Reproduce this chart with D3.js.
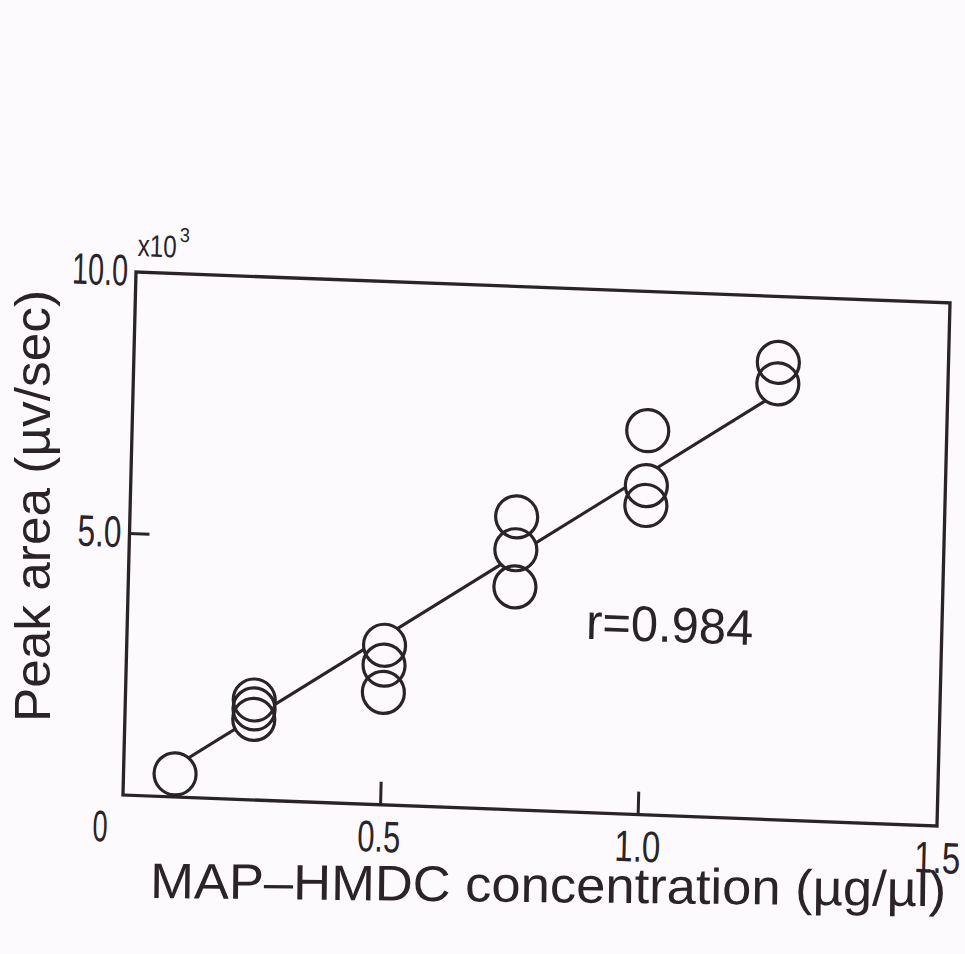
<!DOCTYPE html>
<html>
<head>
<meta charset="utf-8">
<script src="https://cdn.jsdelivr.net/npm/d3@7"></script>
<style>
  html, body { margin: 0; padding: 0; background: #fcfafc; }
  svg { display: block; }
</style>
</head>
<body>
<svg id="chart" width="965" height="954"></svg>
<script>
// Calibration: MAP-HMDC concentration (µg/µl) vs. peak area (x10^3 µv/sec)
const concentrations = [0.1, 0.25, 0.25, 0.25, 0.5, 0.5, 0.5, 0.75, 0.75, 0.75, 1.0, 1.0, 1.0, 1.25, 1.25];
const peakAreas      = [0.44, 1.91, 1.74, 1.54, 3.05, 2.67, 2.15, 5.60, 4.97, 4.26, 7.34, 6.29, 5.91, 8.74, 8.33];

// fitted calibration line (end points)
const fitX = [0.1, 1.25];
const fitY = [0.59, 8.15];

// axes
const xAxisEnd = 1.58;                 // right edge of the frame
const xTickValues = [0.5, 1.0];
const xLabelValues = [0, 0.5, 1.0, xAxisEnd];
const xLabelTexts  = ["0", "0.5", "1.0", "1.5"];
const yTickValues = [5.0];
const yLabelValues = [10.0, 5.0];
const yLabelTexts  = ["10.0", "5.0"];
const yMax = 10;

const correlationText = "r=0.984";
const xTitle = "MAP\u2013HMDC concentration (\u00b5g/\u00b5l)";
const yTitle = "Peak area (\u00b5v/sec)";

const ink = "#2a2328";
const W = 814, H = 523;
const R = 21;

const svg = d3.select("#chart");
svg.append("rect").attr("width", 965).attr("height", 954).attr("fill", "#fcfafc");

const x = d3.scaleLinear().domain([0, xAxisEnd]).range([0, W]);
const y = d3.scaleLinear().domain([0, yMax]).range([H, 0]);

// the printed plot sits slightly skewed on the page
const plot = svg.append("g")
  .attr("transform", "matrix(1,0.038,-0.0249,1,136,272)");

// mask: the fitted line is interrupted by the open circles
const defs = svg.append("defs");
const mask = defs.append("mask").attr("id", "gapMask")
  .attr("maskUnits", "userSpaceOnUse")
  .attr("x", -50).attr("y", -50).attr("width", W + 100).attr("height", H + 100);
mask.append("rect").attr("x", -50).attr("y", -50).attr("width", W + 100).attr("height", H + 100).attr("fill", "white");
mask.selectAll("circle").data(concentrations).join("circle")
  .attr("cx", (d) => x(d))
  .attr("cy", (d, i) => y(peakAreas[i]))
  .attr("r", R)
  .attr("fill", "black");

// frame
plot.append("rect")
  .attr("x", 0).attr("y", 0).attr("width", W).attr("height", H)
  .attr("fill", "none").attr("stroke", ink).attr("stroke-width", 3.3);

// inward ticks
plot.selectAll("line.xtick").data(xTickValues).join("line")
  .attr("class", "xtick")
  .attr("x1", (d) => x(d)).attr("x2", (d) => x(d))
  .attr("y1", H).attr("y2", H - 23)
  .attr("stroke", ink).attr("stroke-width", 3);
plot.selectAll("line.ytick").data(yTickValues).join("line")
  .attr("class", "ytick")
  .attr("x1", 0).attr("x2", 20)
  .attr("y1", (d) => y(d)).attr("y2", (d) => y(d))
  .attr("stroke", ink).attr("stroke-width", 3);

// narrow label: squeeze a text horizontally to a given width
const tickFont = "'Liberation Sans', Arial, sans-serif";
function narrowLabel(parent, str, px, py, size, width, anchor) {
  const g = parent.append("g");
  const t = g.append("text")
    .attr("font-family", tickFont).attr("font-size", size)
    .attr("fill", ink).text(str);
  const natural = t.node().getComputedTextLength();
  const sx = width / natural;
  const shift = anchor === "middle" ? -width / 2 : anchor === "end" ? -width : 0;
  g.attr("transform", `translate(${px + shift},${py}) scale(${sx},1)`);
  return g;
}

const xLabelWidths = { "0": 15, "0.5": 43, "1.0": 46, "1.5": 46 };
const xLabelShift  = { "0": -22, "0.5": -1, "1.0": 0, "1.5": 1 };
xLabelValues.forEach((v, i) => {
  const s = xLabelTexts[i];
  narrowLabel(plot, s, x(v) + xLabelShift[s], H + 47, 44, xLabelWidths[s], "middle");
});

const yLabelWidths = { "10.0": 56, "5.0": 44 };
yLabelValues.forEach((v, i) => {
  const s = yLabelTexts[i];
  narrowLabel(plot, s, -8, y(v) + 14, 44, yLabelWidths[s], "end");
});

// multiplier x10^3
narrowLabel(plot, "x10", 1, -16, 31, 39, "start");
narrowLabel(plot, "3", 43, -32, 20, 10, "start");

// fitted line
const line = d3.line().x((d) => x(d[0])).y((d) => y(d[1]));
plot.append("path")
  .attr("d", line(fitX.map((v, i) => [v, fitY[i]])))
  .attr("fill", "none").attr("stroke", ink).attr("stroke-width", 3)
  .attr("mask", "url(#gapMask)");

// replicate measurements
plot.selectAll("circle.pt").data(concentrations).join("circle")
  .attr("class", "pt")
  .attr("cx", (d) => x(d))
  .attr("cy", (d, i) => y(peakAreas[i]))
  .attr("r", R)
  .attr("fill", "none").attr("stroke", ink).attr("stroke-width", 3.2);

// correlation coefficient
plot.append("text")
  .attr("x", x(0.89)).attr("y", y(3.32))
  .attr("font-family", "'Liberation Sans', Arial, sans-serif").attr("font-size", 50)
  .attr("textLength", 167).attr("lengthAdjust", "spacingAndGlyphs")
  .attr("fill", ink).text(correlationText);

// axis titles
const titleFont = "'Liberation Sans', Arial, sans-serif";
svg.append("text")
  .attr("transform", "translate(150,898) rotate(0.6)")
  .attr("font-family", titleFont).attr("font-size", 50)
  .attr("textLength", 796).attr("lengthAdjust", "spacingAndGlyphs")
  .attr("fill", ink).text(xTitle);
svg.append("text")
  .attr("transform", "translate(50,722) rotate(-90)")
  .attr("font-family", titleFont).attr("font-size", 50)
  .attr("textLength", 432).attr("lengthAdjust", "spacingAndGlyphs")
  .attr("fill", ink).text(yTitle);
</script>
</body>
</html>
